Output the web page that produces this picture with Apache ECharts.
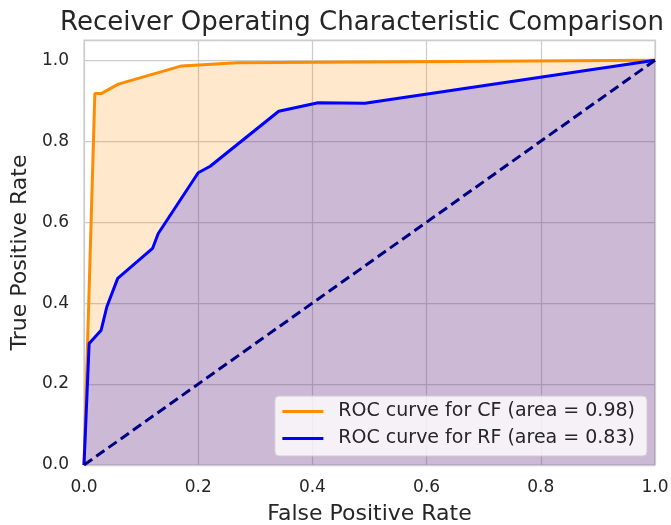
<!DOCTYPE html>
<html><head><meta charset="utf-8">
<script src="https://cdn.jsdelivr.net/npm/echarts@6/dist/echarts.min.js"></script>
<style>html,body{margin:0;padding:0;background:#fff}#c{width:671px;height:525px}</style>
</head><body><div id="c"></div>
<script>
const fprCF = [0.0, 0.019, 0.031, 0.060, 0.171, 0.267, 1.0];
const tprCF = [0.0, 0.918, 0.918, 0.941, 0.986, 0.994, 1.0];
const fprRF = [0.0, 0.009, 0.030, 0.040, 0.059, 0.120, 0.130, 0.200, 0.221, 0.341, 0.410, 0.492, 1.0];
const tprRF = [0.0, 0.300, 0.333, 0.391, 0.461, 0.535, 0.572, 0.722, 0.738, 0.874, 0.895, 0.894, 1.0];
const diagX = [0, 1];
const diagY = [0, 1];
const labelCF = 'ROC curve for CF (area = 0.98)';
const labelRF = 'ROC curve for RF (area = 0.83)';
const titleText = 'Receiver Operating Characteristic Comparison';

const zip = (a, b) => a.map((v, i) => [v, b[i]]);
const font = 'DejaVu Sans';
const chart = echarts.init(document.getElementById('c'), null, {renderer: 'canvas'});
chart.setOption({
  animation: false,
  backgroundColor: '#ffffff',
  title: {
    text: titleText, left: 357, textAlign: 'center', top: 5,
    textStyle: {fontFamily: font, fontSize: 26, fontWeight: 'normal', color: '#262626'}
  },
  grid: {left: 84, right: 16, top: 40, bottom: 60, show: true, containLabel: false, outerBoundsMode: 'none',
    borderColor: '#cccccc', borderWidth: 1.25, backgroundColor: 'transparent'},
  xAxis: {
    type: 'value', min: 0, max: 1, interval: 0.2,
    name: 'False Positive Rate', nameLocation: 'middle', nameGap: 38,
    nameTextStyle: {fontFamily: font, fontSize: 22, color: '#262626'},
    axisLine: {show: false}, axisTick: {show: false},
    axisLabel: {fontFamily: font, fontSize: 17, color: '#262626', margin: 14, formatter: v => v.toFixed(1)},
    splitLine: {show: true, lineStyle: {color: '#cccccc', width: 1.25}}
  },
  yAxis: {
    type: 'value', min: 0, max: 1.05, interval: 0.2,
    name: 'True Positive Rate', nameLocation: 'middle', nameGap: 45,
    nameTextStyle: {fontFamily: font, fontSize: 22, color: '#262626'},
    axisLine: {show: false}, axisTick: {show: false},
    axisLabel: {fontFamily: font, fontSize: 17, color: '#262626', margin: 15, showMaxLabel: false,
      formatter: v => (Math.abs(v * 5 - Math.round(v * 5)) < 1e-6 ? v.toFixed(1) : '')},
    splitLine: {show: true, lineStyle: {color: '#cccccc', width: 1.25}}
  },
  legend: {
    orient: 'vertical', right: 24, bottom: 69,
    backgroundColor: 'rgba(255,255,255,0.8)', borderColor: '#cccccc', borderWidth: 1, borderRadius: 4,
    padding: [6, 12, 8, 6], itemWidth: 41, itemHeight: 4, itemGap: 8,
    lineStyle: {width: 3},
    textStyle: {fontFamily: font, fontSize: 19, color: '#262626', padding: [0, 0, 0, 10]},
    data: [labelCF, labelRF]
  },
  series: [
    {name: labelCF, type: 'line', data: zip(fprCF, tprCF), symbol: 'none', z: 2,
     lineStyle: {color: '#ff8c00', width: 3}, itemStyle: {color: '#ff8c00'},
     areaStyle: {color: 'rgba(255,140,0,0.2)', opacity: 1, origin: 'start'}},
    {name: labelRF, type: 'line', data: zip(fprRF, tprRF), symbol: 'none', z: 3,
     lineStyle: {color: '#0000ff', width: 3}, itemStyle: {color: '#0000ff'},
     areaStyle: {color: 'rgba(0,0,255,0.2)', opacity: 1, origin: 'start'}},
    {name: 'diag', type: 'line', data: zip(diagX, diagY), symbol: 'none', z: 4,
     lineStyle: {color: '#000080', width: 3, type: [10, 5]}}
  ]
});
</script></body></html>
